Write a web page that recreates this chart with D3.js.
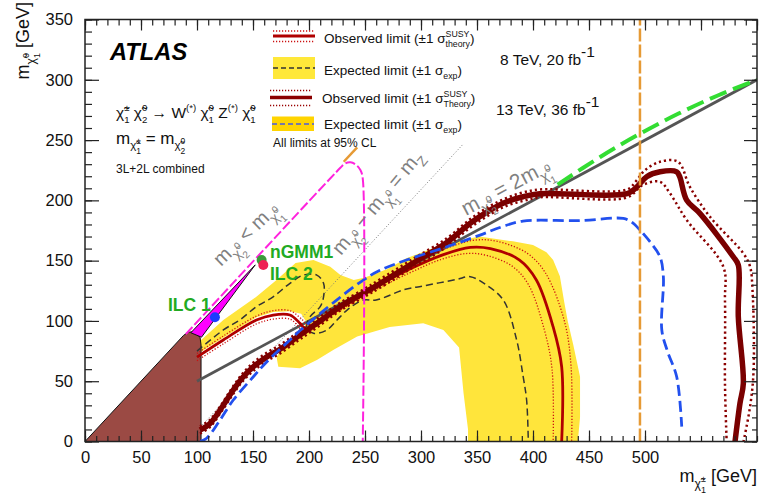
<!DOCTYPE html>
<html>
<head>
<meta charset="utf-8">
<script src="https://cdn.jsdelivr.net/npm/d3@7/dist/d3.min.js"></script>
<style>
  html, body { margin: 0; padding: 0; background: #fff; }
  svg text { font-family: "Liberation Sans", Arial, sans-serif; white-space: pre; }
</style>
</head>
<body>
<svg id="chart" width="761" height="494"></svg>
<script>
// ---- axis ticks ----
const xTickValues = [0, 50, 100, 150, 200, 250, 300, 350, 400, 450, 500];
const yTickValues = [0, 50, 100, 150, 200, 250, 300, 350];

// ---- excluded / kinematic regions ----
const lepRegion = [[0,0],[88,88],[92,90.6],[96,91],[100,89.5],[102.8,86],[103.6,80],[103.6,0]];
const wedgeRegion = [[94.5,90.2],[152,146.5],[104,86.5]];
const degenerateLine = [[90,89],[228,227],[232,230.5],[237,231.6],[242,229.5],[246,225],[248,218],[248,0]];
const zMassLine = [[103,12],[338,247]];          // m(chi2) - m(chi1) = mZ
const halfMassLine = [[100,50],[600,300]];        // m(chi2) = 2 m(chi1)
const greenEdge = [[422,213],[460,236],[496,255.5],[530,272],[565,287],[600,300]];
const lim8Vertical = 495.5;
const lim8Tip = [[231,232],[243,244]];

// ---- 8 TeV, 20 fb-1 ----
const exp8Band = [
  [100,81],[123.5,100.7],[153,120],[171,134],[188,148],[204,150.5],[219,145],[228,138],[240,134],
  [250,136],[270,143],[287,152],[310,160],[326,165],[352,170],[382,166],[400,163],[412,157],
  [418,150.5],[424,137],[428,115],[431,100],[436,80],[442,53.7],[442,20],[440,0],
  [342,0],[342,10],[338,40],[334,78],[320,92.5],[302,98],[272,95],[243,87],[222,76],[207,67.6],
  [192,60.7],[172.6,62],[171,70],[176,77],[190,86],[196,92],[197,100],[193,106],[183,108],
  [168,107.5],[153,103],[123.5,86],[103,74],[100,73]
];
const exp8 = [[100,75],[123.5,92.5],[138,100.7],[153,111.8],[168,120],[183,131.2],[195,138],[207,138],
  [213,131.2],[213,120],[210,111.8],[201,103.5],[198,95.2],[204,89.7],[216,92.5],[225,100.7],[234,109],
  [248.5,117.3],[260,117.3],[285,126],[302,129],[332,134.5],[344,136.7],[358,130],[373.5,117.3],
  [385.4,84.2],[391,55],[394.3,34.4],[395.8,0]];
const obs8 = [[100,70],[123.5,84.2],[153,100.7],[168,104.9],[183,104.9],[192,98],[198,92.5],[215,103],
  [250,123],[290,143],[320,155],[344,161],[362,160],[388,150.5],[403,134],[418,95],[425.6,62],[425.6,0]];
const obs8Up = [[100,73],[123.5,87.5],[153,104],[168,108.5],[183,108.5],[194,101],[200,96],[217,106],
  [252,126],[292,147],[322,160],[348,167],[368,166],[395,156],[411,140],[428,100],[434,62],[434.5,0]];
const obs8Dn = [[100,67],[123.5,81],[153,97.5],[168,101.5],[183,101.5],[190,96],[196,90],[213,100],
  [248,120],[288,139],[318,151],[342,156],[360,154],[382,145],[396,130],[410,93],[417,60],[418,0]];

// ---- 13 TeV, 36 fb-1 ----
const exp13 = [[102.7,0],[108.6,2.7],[120,17],[132.4,34.4],[150.3,53.7],[162.2,66],[183,84.2],[192,92],
  [224.7,117.3],[248.5,133.9],[263.4,142],[287,150.5],[323,161.5],[352.7,171.2],[372,178],[391,182.8],
  [442,183.2],[480.6,185],[488,182],[495.5,175.4],[505,165],[513.4,153.2],[516.4,136.7],[515,92.5],
  [520,75],[528.3,53.7],[532.8,12.3]];
const obs13 = [[102.7,9.5],[111.6,15],[122,28],[132.4,42.7],[141.3,53.7],[150.3,62],[162,70],[174.1,76.5],
  [190,87],[207,98],[227.7,111.8],[248.5,122.9],[263.4,131],[293,148],[323,165],[344,181],[362,192],
  [376.5,198.8],[391,203],[406,205.5],[484,205.5],[492.6,211],[501.5,219.6],[513.4,223.7],[528.3,223.7],
  [531,219.6],[537.2,200.2],[549,189.2],[578.8,153.2],[583.3,146.4],[583.3,103.5],[587.8,48.2],
  [584.8,31.7],[580.4,0]];
const obs13Up = [[102.7,12.5],[111.6,18],[122,31],[132.4,46],[141.3,57],[150.3,65.5],[162,73.5],[174.1,80],
  [190,90.5],[207,101.5],[227.7,115],[248.5,126],[263.4,134.5],[293,151.5],[323,168.5],[344,184.5],
  [362,195.5],[376.5,202],[391,206.5],[406,209],[484,209],[492,216],[500,225],[513.4,232],[529.5,232],
  [540,211.3],[558,186.4],[587.8,156],[593.8,145],[596,125],[597,60],[594,30],[588,0]];
const obs13Dn = [[102.7,6.5],[111.6,12],[122,25],[132.4,39.5],[141.3,50.5],[150.3,58.5],[162,66.5],[174.1,73],
  [190,83.5],[207,94.5],[227.7,108.5],[248.5,119.5],[263.4,127.5],[293,144.5],[323,161.5],[344,177.5],
  [362,188.5],[376.5,195.5],[391,199.5],[406,202.5],[484,202.5],[498.5,213],[513.4,215.4],[522.3,205.8],
  [537.2,183.7],[569.9,145],[571.4,117.3],[571.4,48.2],[572.9,0]];

// ---- benchmark points ----
const benchmarks = [
  { name: "ILC 1", mC: 116, mN: 103, color: "#1a3cff" },
  { name: "nGMM1", mC: 157.7, mN: 150.5, color: "#3a9a3a" },
  { name: "ILC 2", mC: 159.2, mN: 146.4, color: "#ee2255" }
];

// ---------------------------------------------------------------
const svg = d3.select("#chart");
const L = 85, R = 757, T = 19.5, B = 441.5;
const x = d3.scaleLinear().domain([0, 600]).range([L, R]);
const y = d3.scaleLinear().domain([0, 350]).range([B, T]);
const straight = d3.line().x(d => x(d[0])).y(d => y(d[1]));
const smooth = d3.line().x(d => x(d[0])).y(d => y(d[1])).curve(d3.curveCatmullRom.alpha(0.5));

svg.append("clipPath").attr("id", "plotArea")
  .append("rect").attr("x", L).attr("y", T).attr("width", R - L).attr("height", B - T);
const plot = svg.append("g").attr("clip-path", "url(#plotArea)");

// rich text helper: parts = [{t, dy (em, +down), s (scale), back}]
function rich(parent, px, py, base, parts, attrs) {
  const t = parent.append("text").attr("x", px).attr("y", py).attr("font-size", base);
  Object.entries(attrs || {}).forEach(([k, v]) => t.attr(k, v));
  let cur = 0, prevLen = 0;
  parts.forEach(p => {
    const off = (p.dy || 0) * base;
    const ts = t.append("tspan").attr("font-size", base * (p.s || 1)).attr("dy", off - cur).text(p.t);
    if (p.back) ts.attr("dx", -prevLen);
    if (p.style) ts.attr("font-style", p.style);
    cur = off;
    prevLen = ts.node().getComputedTextLength();
  });
  return t;
}
// chi as subscript of a mass symbol
const chiSub = (sup, sub) => [
  { t: "\u03C7\u0303", dy: 0.32, s: 0.68 },
  { t: sup, dy: -0.02, s: 0.5 },
  { t: sub, dy: 0.6, s: 0.5, back: true }
];
// chi at main level
const chiMain = (sup, sub) => [
  { t: "\u03C7\u0303", dy: 0, s: 1 },
  { t: sup, dy: -0.42, s: 0.62 },
  { t: sub, dy: 0.32, s: 0.62, back: true }
];

// 8 TeV expected band
plot.append("path").attr("d", straight(exp8Band) + "Z").attr("fill", "#ffe53b").attr("stroke", "none");

// LEP-like region and compressed wedge
plot.append("path").attr("d", straight(lepRegion) + "Z")
  .attr("fill", "#9b4a44").attr("stroke", "#111").attr("stroke-width", 1);
plot.append("path").attr("d", straight(wedgeRegion) + "Z")
  .attr("fill", "#ff00ff").attr("stroke", "#111").attr("stroke-width", 1);

// kinematic reference lines
plot.append("path").attr("d", straight(zMassLine)).attr("fill", "none")
  .attr("stroke", "#777").attr("stroke-width", 1).attr("stroke-dasharray", "1,2");
plot.append("path").attr("d", straight(halfMassLine)).attr("fill", "none")
  .attr("stroke", "#555").attr("stroke-width", 2.8);
plot.append("path").attr("d", smooth(greenEdge)).attr("fill", "none")
  .attr("stroke", "#33dd33").attr("stroke-width", 4).attr("stroke-dasharray", "18,7");

// 8 TeV expected and observed
plot.append("path").attr("d", smooth(exp8)).attr("fill", "none")
  .attr("stroke", "#333").attr("stroke-width", 1.5).attr("stroke-dasharray", "7,4");
[obs8Up, obs8Dn].forEach(d => plot.append("path").attr("d", smooth(d)).attr("fill", "none")
  .attr("stroke", "#cc1111").attr("stroke-width", 1.3).attr("stroke-dasharray", "1.2,1.8"));
plot.append("path").attr("d", smooth(obs8)).attr("fill", "none")
  .attr("stroke", "#b00000").attr("stroke-width", 2.8);

// 13 TeV observed with theory bands
[obs13Up, obs13Dn].forEach(d => plot.append("path").attr("d", smooth(d)).attr("fill", "none")
  .attr("stroke", "#8a0000").attr("stroke-width", 2.5).attr("stroke-dasharray", "2.2,3"));
plot.append("path").attr("d", smooth(obs13)).attr("fill", "none")
  .attr("stroke", "#7a0000").attr("stroke-width", 5.5).attr("stroke-linejoin", "round");

// 13 TeV expected
plot.append("path").attr("d", smooth(exp13)).attr("fill", "none")
  .attr("stroke", "#2250ee").attr("stroke-width", 2.8).attr("stroke-dasharray", "11,5");

// degenerate boundary
plot.append("path").attr("d", smooth(degenerateLine)).attr("fill", "none")
  .attr("stroke", "#ff22dd").attr("stroke-width", 2).attr("stroke-dasharray", "10,3");

// 8 TeV vertical limit
plot.append("line").attr("x1", x(lim8Vertical)).attr("x2", x(lim8Vertical)).attr("y1", y(0)).attr("y2", y(350))
  .attr("stroke", "#e69a35").attr("stroke-width", 2.5).attr("stroke-dasharray", "13,3");
plot.append("path").attr("d", straight(lim8Tip)).attr("stroke", "#e69a35").attr("stroke-width", 2.5);

// benchmark points
benchmarks.forEach(b => plot.append("circle").attr("cx", x(b.mC)).attr("cy", y(b.mN)).attr("r", 5)
  .attr("fill", b.color));
const bl = svg.append("g").attr("font-weight", "bold").attr("fill", "#22aa22").attr("font-size", 17.5);
bl.append("text").attr("x", 168).attr("y", 311).text("ILC 1");
bl.append("text").attr("x", 270).attr("y", 258).text("nGMM1");
bl.append("text").attr("x", 270).attr("y", 280).text("ILC 2");

// ---- axes ----
const minor = d3.range(0, 601, 10), minorY = d3.range(0, 351, 10);
function axis(gen, pos, major, minorVals, majLen, minLen, labels) {
  const g1 = svg.append("g").attr("transform", pos);
  g1.call(gen.tickValues(minorVals).tickSize(-minLen).tickFormat(""));
  const g2 = svg.append("g").attr("transform", pos);
  g2.call(gen.tickValues(major).tickSize(-majLen).tickFormat(labels ? d3.format("d") : ""));
  [g1, g2].forEach(g => {
    g.select(".domain").remove();
    g.selectAll("line").attr("stroke", "#222").attr("stroke-width", 1.2);
    g.selectAll("text").attr("font-family", "Liberation Sans, Arial, sans-serif")
      .attr("font-size", 16.5).attr("fill", "#111");
  });
}
axis(d3.axisBottom(x).tickPadding(10), `translate(0,${B})`, xTickValues, minor, 11, 5.5, true);
axis(d3.axisTop(x), `translate(0,${T})`, d3.range(0, 601, 50), minor, 11, 6, false);
axis(d3.axisLeft(y).tickPadding(12), `translate(${L},0)`, yTickValues, minorY, 14, 7, true);
axis(d3.axisRight(y), `translate(${R},0)`, yTickValues, minorY, 13, 5, false);
svg.append("rect").attr("x", L).attr("y", T).attr("width", R - L).attr("height", B - T)
  .attr("fill", "none").attr("stroke", "#222").attr("stroke-width", 1.5);

// axis titles
rich(svg, 757, 482, 18, [{ t: "m" }, ...chiSub("\u00B1", "1"), { t: " [GeV]", dy: 0, s: 1 }],
  { "text-anchor": "end", fill: "#111" });
const yt = svg.append("g").attr("transform", "translate(29,2) rotate(-90)");
rich(yt, 0, 0, 18, [{ t: "m" }, ...chiSub("0", "1"), { t: " [GeV]", dy: 0, s: 1 }],
  { "text-anchor": "end", fill: "#111" });

// ---- annotations ----
svg.append("text").attr("x", 110).attr("y", 60).attr("font-size", 23.7).attr("font-weight", "bold")
  .attr("font-style", "italic").attr("fill", "#000").text("ATLAS");

rich(svg, 116, 118, 15.5, [...chiMain("\u00B1", "1"), { t: " ", dy: 0 }, ...chiMain("0", "2"),
  { t: " \u2192 W", dy: 0 }, { t: "(*)", dy: -0.42, s: 0.62 }, { t: " ", dy: 0 }, ...chiMain("0", "1"),
  { t: " Z", dy: 0 }, { t: "(*)", dy: -0.42, s: 0.62 }, { t: " ", dy: 0 }, ...chiMain("0", "1")],
  { fill: "#111" });
rich(svg, 116, 144, 17, [{ t: "m" }, ...chiSub("\u00B1", "1"), { t: " = m", dy: 0, s: 1 }, ...chiSub("0", "2")],
  { fill: "#111" });
svg.append("text").attr("x", 116).attr("y", 172.5).attr("font-size", 12).attr("fill", "#111")
  .text("3L+2L combined");

// rotated line labels
const gA = svg.append("g").attr("transform", "translate(221,267) rotate(-44)");
rich(gA, 0, 0, 20, [{ t: "m" }, ...chiSub("0", "2"), { t: " < m", dy: 0, s: 1 }, ...chiSub("0", "1")],
  { fill: "#808080" });
const gB = svg.append("g").attr("transform", "translate(341,256) rotate(-50)");
rich(gB, 0, 0, 20, [{ t: "m" }, ...chiSub("0", "2"), { t: " \u2212 m", dy: 0, s: 1 }, ...chiSub("0", "1"),
  { t: " = m", dy: 0, s: 1 }, { t: "Z", dy: 0.3, s: 0.68 }], { fill: "#808080" });
const gC = svg.append("g").attr("transform", "translate(466,216) rotate(-28)");
rich(gC, 0, 0, 21, [{ t: "m" }, ...chiSub("0", "2"), { t: " = 2m", dy: 0, s: 1 }, ...chiSub("0", "1")],
  { fill: "#808080" });

// ---- legend ----
const lg = svg.append("g");
// row 1: 8 TeV observed
[31, 41.5].forEach(v => lg.append("line").attr("x1", 273).attr("x2", 315).attr("y1", v).attr("y2", v)
  .attr("stroke", "#cc1111").attr("stroke-width", 1.3).attr("stroke-dasharray", "1.2,1.8"));
lg.append("line").attr("x1", 273).attr("x2", 315).attr("y1", 36).attr("y2", 36)
  .attr("stroke", "#b00000").attr("stroke-width", 3);
// row 2: 8 TeV expected
lg.append("rect").attr("x", 273).attr("y", 57).attr("width", 42).attr("height", 22).attr("fill", "#ffe83a");
lg.append("line").attr("x1", 273).attr("x2", 315).attr("y1", 68).attr("y2", 68)
  .attr("stroke", "#333").attr("stroke-width", 1.5).attr("stroke-dasharray", "5,3");
// row 3: 13 TeV observed
[90.5, 105.5].forEach(v => lg.append("line").attr("x1", 270).attr("x2", 312).attr("y1", v).attr("y2", v)
  .attr("stroke", "#990000").attr("stroke-width", 1.4).attr("stroke-dasharray", "1.2,1.8"));
lg.append("line").attr("x1", 270).attr("x2", 312).attr("y1", 97.5).attr("y2", 97.5)
  .attr("stroke", "#8b0000").attr("stroke-width", 3.5);
// row 4: 13 TeV expected
lg.append("rect").attr("x", 272).attr("y", 116.5).attr("width", 42).attr("height", 14.5).attr("fill", "#ffd400");
lg.append("line").attr("x1", 272).attr("x2", 314).attr("y1", 124).attr("y2", 124)
  .attr("stroke", "#4a5ae0").attr("stroke-width", 1.5).attr("stroke-dasharray", "5,3");

const sig = (sup, sub) => [{ t: "\u03C3", dy: 0 }, ...(sup ? [{ t: sup, dy: -0.45, s: 0.65 }] : []),
  { t: sub, dy: 0.3, s: 0.65, back: !!sup }, { t: ")", dy: 0 }];
rich(lg, 324, 43, 13.5, [{ t: "Observed limit (\u00B11 " }, ...sig("SUSY", "theory")], { fill: "#111" });
rich(lg, 324, 75, 13.5, [{ t: "Expected limit (\u00B11 " }, ...sig(null, "exp")], { fill: "#111" });
rich(lg, 322, 103, 13.5, [{ t: "Observed limit (\u00B11 " }, ...sig("SUSY", "Theory")], { fill: "#111" });
rich(lg, 324, 128.5, 13.5, [{ t: "Expected limit (\u00B11 " }, ...sig(null, "exp")], { fill: "#111" });
lg.append("text").attr("x", 273).attr("y", 147).attr("font-size", 12).attr("fill", "#111")
  .text("All limits at 95% CL");

rich(svg, 500, 65, 15.5, [{ t: "8 TeV, 20 fb" }, { t: "-1", dy: -0.5, s: 1 }], { fill: "#111" });
rich(svg, 496, 115, 15.5, [{ t: "13 TeV, 36 fb" }, { t: "-1", dy: -0.5, s: 1 }], { fill: "#111" });
</script>
</body>
</html>
